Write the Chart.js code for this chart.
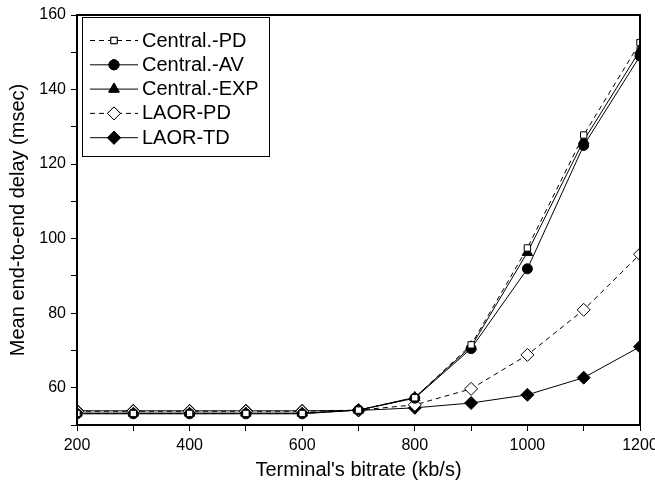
<!DOCTYPE html>
<html>
<head>
<meta charset="utf-8">
<script src="https://cdn.jsdelivr.net/npm/chart.js@4/dist/chart.umd.min.js"></script>
<style>
  html, body { margin: 0; padding: 0; background: #fff; }
  #wrap { width: 655px; height: 488px; }
</style>
</head>
<body>
<div id="wrap"><canvas id="delayChart"></canvas></div>
<script>
// bitrate (kb/s) on x
const bitrates = [200, 300, 400, 500, 600, 700, 800, 900, 1000, 1100, 1200];

// mean end-to-end delay (msec)
const centralPD  = [53.1, 53.1, 53.1, 53.1, 53.1, 54.0, 57.3, 71.5, 97.5, 127.8, 152.6];
const centralAV  = [53.0, 53.0, 53.0, 53.0, 53.0, 54.0, 57.2, 70.5, 91.9, 125.0, 149.0];
const centralEXP = [53.2, 53.2, 53.2, 53.2, 53.2, 54.0, 57.4, 71.0, 96.3, 126.3, 150.5];
const laorPD     = [53.7, 53.7, 53.7, 53.7, 53.7, 54.0, 55.4, 59.7, 68.8, 80.9, 95.8];
const laorTD     = [53.8, 53.8, 53.8, 53.8, 53.8, 53.9, 54.6, 55.9, 58.1, 62.7, 71.0];

const seriesNames = ['Central.-PD', 'Central.-AV', 'Central.-EXP', 'LAOR-PD', 'LAOR-TD'];

const yTicksMin = 50;
const yTicksMax = 160;

const FONT = "'Liberation Sans', Arial, sans-serif";

function toPoints(values) {
  return values.map((v, i) => ({ x: bitrates[i], y: v }));
}

function makeDataset(label, values, style, filled, dashed, radius) {
  return {
    label,
    data: toPoints(values),
    borderColor: '#000',
    borderWidth: 1,
    borderDash: dashed ? [5, 4] : [],
    pointStyle: style,
    pointRadius: radius,
    pointBackgroundColor: filled ? '#000' : '#fff',
    pointBorderColor: '#000',
    pointBorderWidth: 1,
    tension: 0,
    fill: false,
  };
}

// box round the plot, plus a legend drawn with line + marker samples
const framePlugin = {
  id: 'frame',
  afterDatasetsDraw(chart) {
    const { ctx, chartArea } = chart;
    ctx.save();
    ctx.strokeStyle = '#000';
    ctx.lineWidth = 2;
    ctx.strokeRect(chartArea.left, chartArea.top, chartArea.right - chartArea.left, chartArea.bottom - chartArea.top);

    // legend
    const boxX = chartArea.left + 5;
    const boxY = chartArea.top + 2;
    const boxW = 187;
    const boxH = 139;
    ctx.fillStyle = '#fff';
    ctx.fillRect(boxX, boxY, boxW, boxH);
    ctx.lineWidth = 1;
    ctx.strokeRect(boxX + 0.5, boxY + 0.5, boxW, boxH);

    ctx.font = '20px ' + FONT;
    ctx.textBaseline = 'middle';
    chart.data.datasets.forEach((ds, i) => {
      const y = boxY + 23 + i * 24.3;
      const x0 = boxX + 8;
      const x1 = boxX + 56;
      ctx.strokeStyle = '#000';
      ctx.lineWidth = 1;
      ctx.setLineDash(ds.borderDash);
      ctx.beginPath();
      ctx.moveTo(x0, y + 0.5);
      ctx.lineTo(x1, y + 0.5);
      ctx.stroke();
      ctx.setLineDash([]);
      ctx.fillStyle = ds.pointBackgroundColor;
      Chart.helpers.drawPoint(ctx, {
        pointStyle: ds.pointStyle,
        radius: ds.pointRadius,
        rotation: 0,
        borderWidth: 1,
      }, (x0 + x1) / 2, y + 0.5);
      ctx.fill();
      ctx.stroke();
      ctx.fillStyle = '#000';
      ctx.fillText(ds.label, x1 + 4, y + 1);
    });
    ctx.restore();
  },
};

const ctx = document.getElementById('delayChart').getContext('2d');
new Chart(ctx, {
  type: 'line',
  data: {
    datasets: [
      makeDataset(seriesNames[0], centralPD, 'rect', false, true, 4.5),
      makeDataset(seriesNames[1], centralAV, 'circle', true, false, 5),
      makeDataset(seriesNames[2], centralEXP, 'triangle', true, false, 6),
      makeDataset(seriesNames[3], laorPD, 'rectRot', false, true, 6.5),
      makeDataset(seriesNames[4], laorTD, 'rectRot', true, false, 6.5),
    ],
  },
  options: {
    responsive: true,
    maintainAspectRatio: false,
    animation: false,
    layout: { padding: { top: 15, right: 15, left: 0, bottom: 0 } },
    plugins: {
      legend: { display: false },
      tooltip: { enabled: false },
    },
    scales: {
      x: {
        type: 'linear',
        min: 200,
        max: 1200,
        ticks: {
          stepSize: 100,
          autoSkip: false,
          maxRotation: 0,
          color: '#000',
          font: { family: FONT, size: 16 },
          padding: 5,
          callback: (v) => (v % 200 === 0 ? String(v) : ''),
        },
        grid: { drawOnChartArea: false, drawTicks: true, tickLength: 6, color: '#000', lineWidth: 1 },
        border: { display: true, color: '#000', width: 2 },
        title: {
          display: true,
          text: "Terminal's bitrate (kb/s)",
          color: '#000',
          font: { family: FONT, size: 20 },
          padding: { top: 10, bottom: 6 },
        },
        afterFit: (scale) => {
          scale.height = 63;
          scale.paddingRight = 15;
        },
      },
      y: {
        min: yTicksMin,
        max: yTicksMax,
        ticks: {
          stepSize: 10,
          autoSkip: false,
          color: '#000',
          font: { family: FONT, size: 16 },
          padding: 5,
          callback: (v) => (v % 20 === 0 ? String(v) : ''),
        },
        grid: { drawOnChartArea: false, drawTicks: true, tickLength: 6, color: '#000', lineWidth: 1 },
        border: { display: true, color: '#000', width: 2 },
        title: {
          display: true,
          text: 'Mean end-to-end delay (msec)',
          color: '#000',
          font: { family: FONT, size: 20 },
          padding: { top: 6, bottom: 6 },
        },
        afterFit: (scale) => { scale.width = 77; },
      },
    },
  },
  plugins: [framePlugin],
});
</script>
</body>
</html>
